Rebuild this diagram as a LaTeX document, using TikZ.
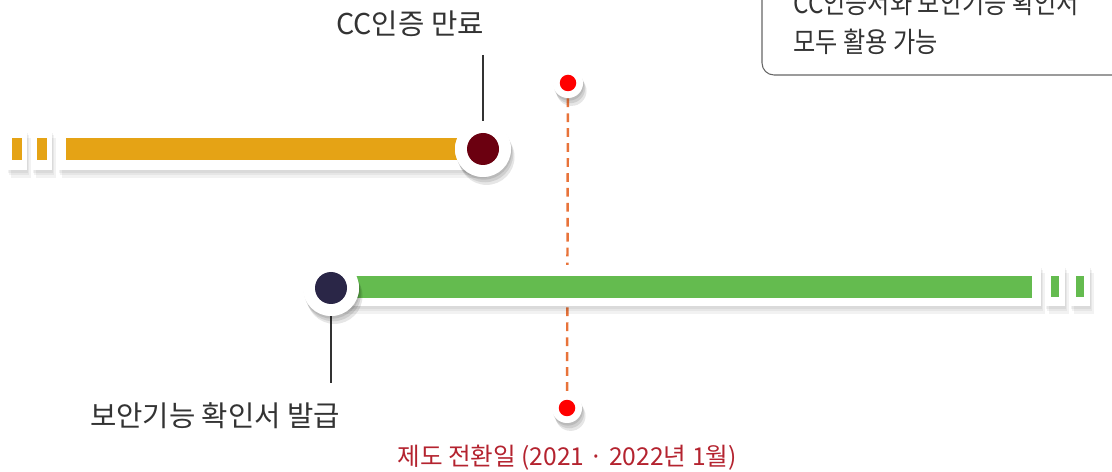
\documentclass[tikz,border=0pt]{standalone}
\usepackage{fontspec}
\newfontfamily\krfont{Noto Sans CJK KR}
\newfontfamily\krnarrow[FakeStretch=0.86]{Noto Sans CJK KR}
\usetikzlibrary{shadows}
\definecolor{ccYellow}{HTML}{E5A315}
\definecolor{ccDark}{HTML}{6B0010}
\definecolor{fnGreen}{HTML}{64BB4F}
\definecolor{fnNavy}{HTML}{2A2647}
\definecolor{dashOrange}{HTML}{E8733A}
\definecolor{dateRed}{HTML}{B4232F}
\definecolor{txtGray}{HTML}{333333}
\tikzset{
  softshadow/.style={
    general shadow={fill=black, opacity=0.05, shadow yshift=-1.5pt, shadow xshift=0.5pt},
    general shadow={fill=black, opacity=0.05, shadow yshift=-3pt, shadow xshift=1.2pt},
    general shadow={fill=black, opacity=0.05, shadow yshift=-4.5pt, shadow xshift=2pt}},
  band/.style={fill=white, softshadow},
  ring/.style={circle, fill=white, minimum size=1.12cm, inner sep=0pt, softshadow,
    path picture={\fill[#1] (path picture bounding box.center) circle (0.32cm);}},
  dot/.style={circle, fill=white, minimum size=0.6cm, inner sep=0pt, softshadow,
    path picture={\fill[red] (path picture bounding box.center) circle (0.165cm);}},
  label/.style={font=\krfont\fontsize{16.3}{22}\selectfont, text=txtGray, inner sep=0pt},
  leader/.style={draw=txtGray, line width=0.7pt}
}
\begin{document}
\begin{tikzpicture}[x=0.02cm, y=-0.02cm]
  \clip (0,0) rectangle (1112,472);

  % note box
  \draw[rounded corners=0.24cm, draw=black!60, line width=0.6pt] (762,-30) rectangle (1140,75);
  \node[label, font=\krnarrow\fontsize{16}{22}\selectfont, anchor=base west] (noteA) at (793,14) {CC인증서와 보안기능 확인서};
  \node[label, font=\krnarrow\fontsize{16}{22}\selectfont, anchor=base west] (noteB) at (793,53) {모두 활용 가능};

  % transition date
  \node[dot] (dotTop) at (568,83) {};
  \node[dot] (dotBot) at (567,408) {};
  \draw[dashOrange, line width=1.4pt, dash pattern=on 5pt off 3.5pt]
    (dotTop) -- (dotBot);
  \node[dot] at (dotTop) {};
  \node[dot] at (dotBot) {};
  \node[label, font=\krfont\fontsize{14}{20}\selectfont, text=dateRed, anchor=base] (dateLabel) at (567,466) {제도 전환일 (2021 · 2022년 1월)};

  % CC certification bar
  \foreach \x in {17,42} {
    \fill[band] (\x-10,130) rectangle (\x+10,170);
    \fill[ccYellow] (\x-5,138) rectangle (\x+5,160);
  }
  \fill[band] (58,130) rectangle (483,170);
  \fill[ccYellow] (66,138) rectangle (470,160);
  \node[ring=ccDark] (ccEnd) at (483,149) {};
  \node[label, anchor=base] (ccLabel) at (410,35) {CC인증 만료};
  \draw[leader] (ccEnd |- 0,55) -- (ccEnd);
  \node[ring=ccDark] at (ccEnd) {};

  % security function bar
  \fill[band] (331,265) rectangle (1041,306);
  \fill[fnGreen] (345,276) rectangle (1032,298);
  \foreach \x in {1055,1080} {
    \fill[band] (\x-10,265) rectangle (\x+10,306);
    \fill[fnGreen] (\x-4,276) rectangle (\x+4,297);
  }
  \node[ring=fnNavy] (fnStart) at (331,288) {};
  \node[label, anchor=base] (fnLabel) at (215,427) {보안기능 확인서 발급};
  \draw[leader] (fnStart) -- (fnStart |- 0,383);
  \node[ring=fnNavy] at (fnStart) {};
\end{tikzpicture}
\end{document}
